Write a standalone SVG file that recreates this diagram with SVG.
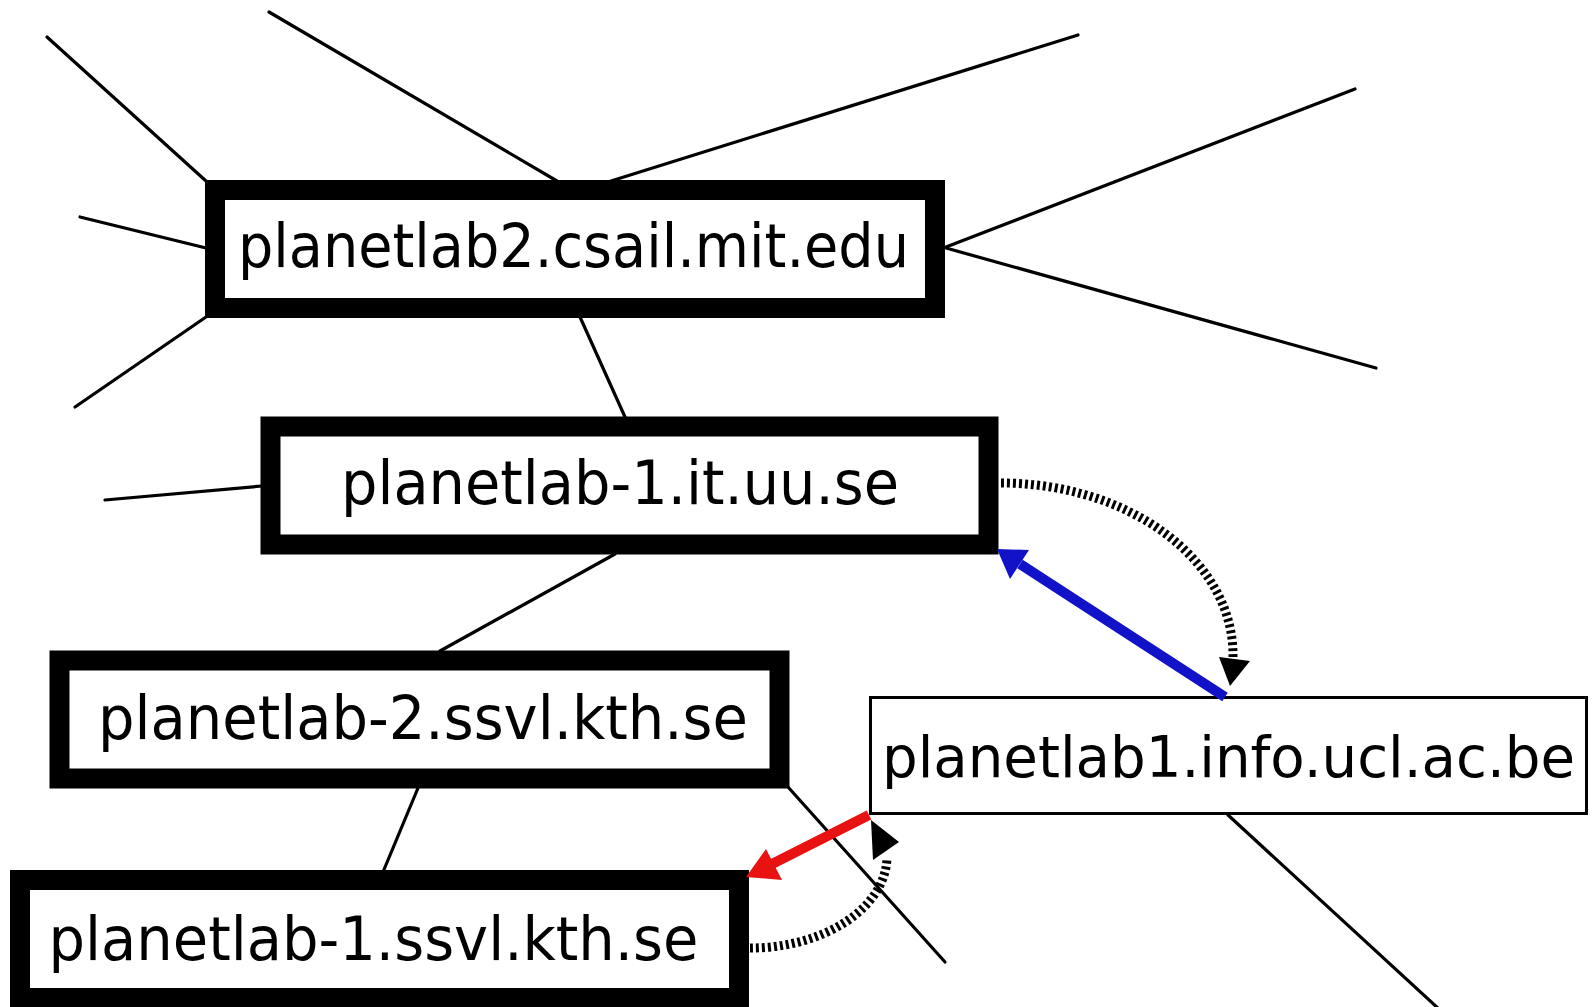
<svg xmlns="http://www.w3.org/2000/svg" width="1595" height="1007" viewBox="0 0 1595 1007">
<style>
.edge{stroke:#000;stroke-width:3.2;fill:none;stroke-linecap:round}
.thick{fill:#fff;stroke:#000;stroke-width:20}
.thin{fill:#fff;stroke:#000;stroke-width:3}
.lbl{font-family:"DejaVu Sans","Liberation Sans",sans-serif;font-size:60px;fill:#000}
.dots{fill:none;stroke:#000;stroke-width:9;stroke-dasharray:3 3}
</style>
<rect x="0" y="0" width="1595" height="1007" fill="#fff"/>
<g id="connectors">
<line class="edge" x1="47" y1="37" x2="206" y2="181"/>
<line class="edge" x1="269" y1="12" x2="557" y2="181"/>
<line class="edge" x1="1078" y1="35" x2="611" y2="181"/>
<line class="edge" x1="80" y1="217" x2="206" y2="248"/>
<line class="edge" x1="75" y1="407" x2="206" y2="317"/>
<line class="edge" x1="1355" y1="89" x2="946" y2="247"/>
<line class="edge" x1="946" y1="248" x2="1376" y2="368"/>
<line class="edge" x1="580" y1="317" x2="625" y2="417"/>
<line class="edge" x1="105" y1="500" x2="262" y2="486"/>
<line class="edge" x1="615" y1="554" x2="440" y2="651"/>
<line class="edge" x1="418" y1="788" x2="383" y2="872"/>
<line class="edge" x1="788" y1="787" x2="945" y2="962"/>
<line class="edge" x1="1228" y1="815" x2="1440" y2="1010"/>
</g>
<g id="n1"><rect class="thick" x="215" y="190" width="720" height="118"/><text class="lbl" x="238" y="267" textLength="671" lengthAdjust="spacingAndGlyphs">planetlab2.csail.mit.edu</text></g>
<g id="n2"><rect class="thick" x="270.5" y="426.5" width="718" height="118"/><text class="lbl" x="341" y="504" textLength="558" lengthAdjust="spacingAndGlyphs">planetlab-1.it.uu.se</text></g>
<g id="n3"><rect class="thick" x="59.5" y="660.5" width="720" height="118"/><text class="lbl" x="98" y="739" textLength="650" lengthAdjust="spacingAndGlyphs">planetlab-2.ssvl.kth.se</text></g>
<g id="n4"><rect class="thick" x="20" y="880" width="719" height="118"/><text class="lbl" x="48.5" y="960" textLength="650" lengthAdjust="spacingAndGlyphs">planetlab-1.ssvl.kth.se</text></g>
<g id="n5"><rect class="thin" x="870.5" y="697.5" width="716" height="116"/><text class="lbl" x="882" y="777" style="font-size:56.5px" textLength="693" lengthAdjust="spacingAndGlyphs">planetlab1.info.ucl.ac.be</text></g>
<g id="arrows">
<line x1="1225" y1="697" x2="1020" y2="564" stroke="#1212c8" stroke-width="10"/>
<polygon points="997,549 1029,550 1010,579" fill="#1212c8"/>
<line x1="869" y1="815" x2="772" y2="864" stroke="#e81212" stroke-width="10"/>
<polygon points="746,877 766,849 782,880" fill="#e81212"/>
<path class="dots" d="M1001,483 A232,172 0 0 1 1233,657"/>
<polygon points="1219,657 1250,661 1230,686" fill="#000"/>
<path class="dots" d="M750,948 A137,92 0 0 0 887,858"/>
<polygon points="871,820 899,842 873,860" fill="#000"/>
</g>
</svg>
